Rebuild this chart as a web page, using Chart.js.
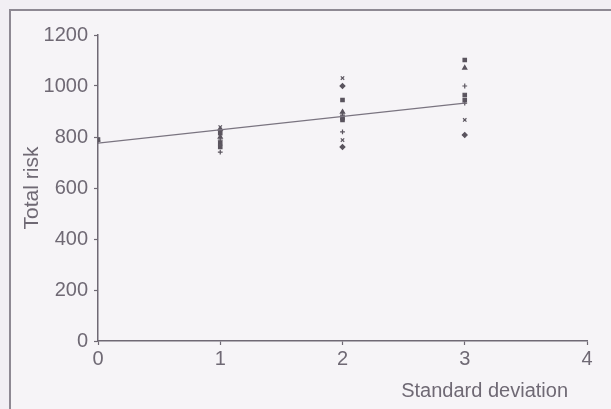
<!DOCTYPE html>
<html><head><meta charset="utf-8">
<script src="https://cdn.jsdelivr.net/npm/chart.js@4.4.1/dist/chart.umd.min.js"></script>
<style>
html,body{margin:0;padding:0;background:#f2eff4;overflow:hidden;}
#wrap{position:absolute;left:0;top:0;width:611px;height:409px;overflow:hidden;}
#frame{position:absolute;left:9px;top:9px;width:640px;height:440px;border-left:2px solid #8e8993;border-top:2px solid #8e8993;background:#f6f4f7;}
canvas{position:absolute;left:0;top:0;}
</style></head>
<body>
<div id="wrap"><div id="frame"></div><canvas id="c" width="611" height="409"></canvas></div>
<script>
// ---- data ----
const sdCategories = [0, 1, 2, 3];
const risk0 = [790, 784];
const risk1 = [839, 827, 815, 800, 788, 776, 761, 741];
const risk2 = [1031, 1000, 945, 898, 886, 875, 867, 820, 788, 761];
const risk3 = [1102, 1071, 1000, 965, 945, 933, 867, 808];
const trendX = [0, 3];
const trendY = [776, 933];
const xTickValues = [0, 1, 2, 3, 4];
const yTickValues = [0, 200, 400, 600, 800, 1000, 1200];
const xTitle = 'Standard deviation';
const yTitle = 'Total risk';

const riskByCategory = [risk0, risk1, risk2, risk3];
const scatterPoints = [];
riskByCategory.forEach((vals, i) => vals.forEach(v => scatterPoints.push({x: sdCategories[i], y: v})));
const trendPoints = trendX.map((x, i) => ({x: x, y: trendY[i]}));

const ink = '#6f6974';
const fontFam = '"Liberation Sans", Arial, sans-serif';
const markStyles = ['rect', 'cross', 'crossRot', 'rectRot', 'rect', 'triangle', 'cross', 'rect'];

const xTitlePlugin = {
  id: 'xTitlePlugin',
  afterDraw(chart) {
    const ctx = chart.ctx, xs = chart.scales.x;
    ctx.save();
    ctx.font = '20px ' + fontFam;
    ctx.fillStyle = ink;
    ctx.textAlign = 'right';
    ctx.textBaseline = 'middle';
    ctx.fillText(xTitle, xs.right - 19, 391);
    ctx.restore();
  }
};

new Chart(document.getElementById('c'), {
  type: 'scatter',
  data: {
    datasets: [
      {
        type: 'line',
        data: trendPoints,
        borderColor: '#7a7480',
        borderWidth: 1.2,
        pointRadius: 0,
        fill: false,
        tension: 0
      },
      {
        data: scatterPoints,
        backgroundColor: '#5a545e',
        borderColor: '#5a545e',
        borderWidth: 1.2,
        pointRadius: 2.4,
        pointStyle: (c) => markStyles[c.dataIndex % markStyles.length]
      }
    ]
  },
  options: {
    responsive: false,
    animation: false,
    events: [],
    layout: {padding: {left: 0, right: 24, top: 35, bottom: 0}},
    plugins: {legend: {display: false}, tooltip: {enabled: false}},
    scales: {
      x: {
        type: 'linear',
        min: 0, max: 4,
        afterFit: (s) => { s.height = 68; },
        afterBuildTicks: (s) => { s.ticks = xTickValues.map(v => ({value: v})); },
        grid: {display: true, drawOnChartArea: false, drawTicks: true, tickLength: 4, color: ink, tickWidth: 1.2},
        border: {display: true, color: ink, width: 1.5},
        ticks: {color: ink, font: {family: fontFam, size: 20}, padding: 2, maxRotation: 0, callback: (v) => String(v)}
      },
      y: {
        type: 'linear',
        min: 0, max: 1200,
        afterFit: (s) => { s.width = 98; },
        afterBuildTicks: (s) => { s.ticks = yTickValues.map(v => ({value: v})); },
        grid: {display: true, drawOnChartArea: false, drawTicks: true, tickLength: 4, color: ink, tickWidth: 1.2},
        border: {display: true, color: ink, width: 1.5},
        ticks: {color: ink, font: {family: fontFam, size: 20}, padding: 6, callback: (v) => String(v)},
        title: {display: true, text: yTitle, color: ink, font: {family: fontFam, size: 21}, padding: {top: 20, bottom: 0}}
      }
    }
  },
  plugins: [xTitlePlugin]
});
</script>
</body></html>
